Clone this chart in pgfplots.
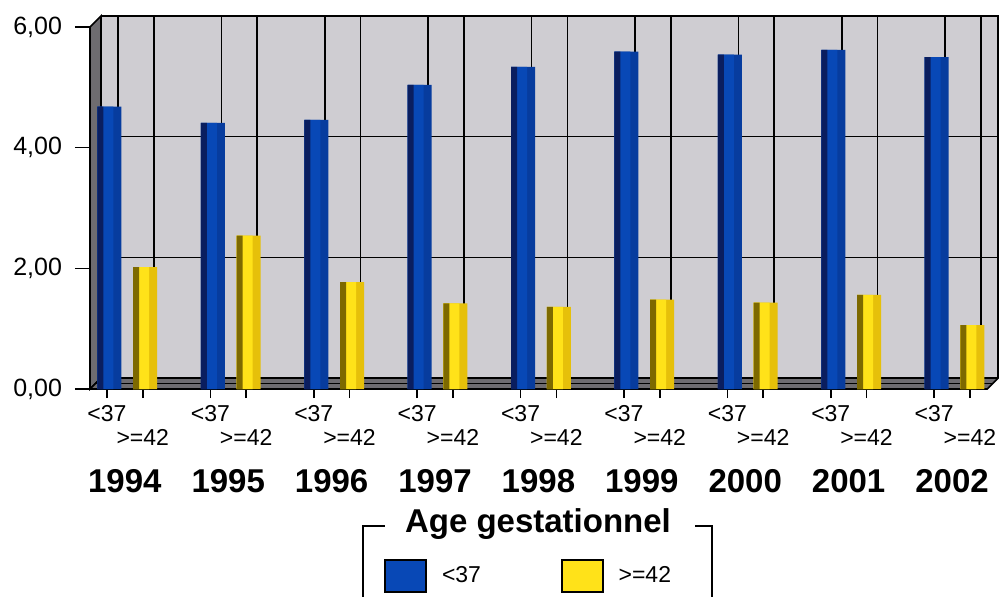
\documentclass[border=0pt]{standalone}
\usepackage{fontspec}
\setmainfont{Liberation Sans}
\usepackage{pgfplots}
\usepackage{pgfplotstable}
\pgfplotsset{compat=1.18}
\usetikzlibrary{calc}

\definecolor{wall}{RGB}{207,205,210}
\definecolor{sidewall}{RGB}{110,108,112}
\definecolor{blueA}{RGB}{8,72,182}
\definecolor{blueB}{RGB}{7,60,158}
\definecolor{blueC}{RGB}{10,30,95}
\definecolor{yelA}{RGB}{255,226,25}
\definecolor{yelB}{RGB}{230,192,10}
\definecolor{yelC}{RGB}{125,105,0}

\pgfplotstableread{
x y
-0.173 4.68
0.827 4.41
1.827 4.46
2.827 5.04
3.827 5.34
4.827 5.59
5.827 5.54
6.827 5.62
7.827 5.50
}\lowdata
\pgfplotstableread{
x y
0.173 2.02
1.173 2.54
2.173 1.77
3.173 1.42
4.173 1.36
5.173 1.48
6.173 1.43
7.173 1.56
8.173 1.06
}\highdata

\newcommand{\tickfont}{\fontsize{11.5bp}{12bp}\selectfont}
\newcommand{\ytickfont}{\fontsize{12.5bp}{13bp}\selectfont}
\newcommand{\yearfont}{\fontsize{16.5bp}{18bp}\selectfont\bfseries}
\def\dd{5.5bp}
\def\xmn{-0.337}
\def\xmx{8.34}

\pgfplotsset{sq legend/.style={legend image code/.code={\draw[##1,draw=black,line width=0.8bp] (0bp,-8bp) rectangle (20.5bp,8bp);}}}

\begin{document}
\begin{tikzpicture}
\useasboundingbox (-45bp,-104bp) rectangle (454.5bp,194.5bp);
\begin{axis}[
  at={(0,0)}, anchor=south west,
  x=51.7bp, y=30.17bp,
  xmin=\xmn, xmax=\xmx, ymin=0, ymax=6,
  clip=false,
  axis x line*=bottom, axis y line*=left,
  axis line style={black, line width=1bp},
  tick align=outside,
  major tick length=4.5bp,
  tick style={black, line width=0.8bp},
  tick label style={font=\tickfont},
  ytick=\empty,
  extra y ticks={0,2,4,6},
  extra y tick labels={{0,00},{2,00},{4,00},{6,00}},
  extra y tick style={major tick length=7.5bp, yticklabel style={xshift=-3bp, font=\ytickfont}},
  xtick={0.173,1.173,2.173,3.173,4.173,5.173,6.173,7.173,8.173},
  xticklabels={>=42,>=42,>=42,>=42,>=42,>=42,>=42,>=42,>=42},
  xticklabel style={yshift=-12bp},
  extra x ticks={-0.173,0.827,1.827,2.827,3.827,4.827,5.827,6.827,7.827},
  extra x tick labels={<37,<37,<37,<37,<37,<37,<37,<37,<37},
  extra x tick style={xticklabel style={yshift=12bp}},
  legend columns=2,
  legend style={at={(0.3277,-0.5165)}, anchor=west, draw=none, fill=none,
    inner sep=0pt, nodes={inner sep=0pt}, font=\tickfont,
    /tikz/every odd column/.append style={column sep=7.5bp},
    /tikz/every even column/.append style={column sep=40bp}},
]
% back wall
\fill[wall] ($(axis cs:\xmn,0)+(\dd,\dd)$) rectangle ($(axis cs:\xmx,6)+(\dd,\dd)$);
\draw[black,line width=0.8bp] ($(axis cs:\xmn,2)+(\dd,\dd)$) -- ($(axis cs:\xmx,2)+(\dd,\dd)$);
\draw[black,line width=0.8bp] ($(axis cs:\xmn,4)+(\dd,\dd)$) -- ($(axis cs:\xmx,4)+(\dd,\dd)$);
\pgfplotsinvokeforeach{-0.173,0.173,0.827,1.173,1.827,2.173,2.827,3.173,3.827,4.173,4.827,5.173,5.827,6.173,6.827,7.173,7.827,8.173}{
  \draw[black,line width=0.8bp] ($(axis cs:#1,0)+(\dd,\dd)$) -- ($(axis cs:#1,6)+(\dd,\dd)$);
}
\draw[black,line width=0.8bp] ($(axis cs:\xmn,6)+(\dd,\dd)$) -- ($(axis cs:\xmx,6)+(\dd,\dd)$) -- ($(axis cs:\xmx,0)+(\dd,\dd)$);
% left wall
\filldraw[fill=sidewall,draw=black,line width=0.8bp] (axis cs:\xmn,0) -- (axis cs:\xmn,6) -- ($(axis cs:\xmn,6)+(\dd,\dd)$) -- ($(axis cs:\xmn,0)+(\dd,\dd)$) -- cycle;
% floor
\filldraw[fill=sidewall,draw=black,line width=0.8bp] (axis cs:\xmn,0) -- (axis cs:\xmx,0) -- ($(axis cs:\xmx,0)+(\dd,\dd)$) -- ($(axis cs:\xmn,0)+(\dd,\dd)$) -- cycle;
\draw[black,line width=0.6bp] ($(axis cs:\xmn,0)+(0.5*\dd,0.5*\dd)$) -- ($(axis cs:\xmx,0)+(0.5*\dd,0.5*\dd)$);

% bars <37
\addplot[ybar, bar width=12bp, bar shift=1.25bp, fill=blueB, draw=none, forget plot] table {\lowdata};
\addplot[ybar, bar width=8bp, bar shift=-0.75bp, fill=blueA, draw=none, sq legend] table {\lowdata};
\addlegendentry{<37}
\addplot[ybar, bar width=3bp, bar shift=-3.25bp, fill=blueC, draw=none, forget plot] table {\lowdata};
% bars >=42
\addplot[ybar, bar width=12bp, bar shift=1.25bp, fill=yelB, draw=none, forget plot] table {\highdata};
\addplot[ybar, bar width=8bp, bar shift=-0.75bp, fill=yelA, draw=none, sq legend] table {\highdata};
\addlegendentry{>=42}
\addplot[ybar, bar width=3bp, bar shift=-3.25bp, fill=yelC, draw=none, forget plot] table {\highdata};

% years
\node[font=\yearfont, anchor=base] at ($(axis cs:0,0)+(0bp,-51.5bp)$) {1994};
\node[font=\yearfont, anchor=base] at ($(axis cs:1,0)+(0bp,-51.5bp)$) {1995};
\node[font=\yearfont, anchor=base] at ($(axis cs:2,0)+(0bp,-51.5bp)$) {1996};
\node[font=\yearfont, anchor=base] at ($(axis cs:3,0)+(0bp,-51.5bp)$) {1997};
\node[font=\yearfont, anchor=base] at ($(axis cs:4,0)+(0bp,-51.5bp)$) {1998};
\node[font=\yearfont, anchor=base] at ($(axis cs:5,0)+(0bp,-51.5bp)$) {1999};
\node[font=\yearfont, anchor=base] at ($(axis cs:6,0)+(0bp,-51.5bp)$) {2000};
\node[font=\yearfont, anchor=base] at ($(axis cs:7,0)+(0bp,-51.5bp)$) {2001};
\node[font=\yearfont, anchor=base] at ($(axis cs:8,0)+(0bp,-51.5bp)$) {2002};
\end{axis}
% legend frame and title
\draw[black,line width=1bp] (136.5bp,-104bp) -- (136.5bp,-68.5bp) -- (147.5bp,-68.5bp);
\draw[black,line width=1bp] (302.5bp,-68.5bp) -- (311bp,-68.5bp) -- (311bp,-104bp);
\node[font=\yearfont, anchor=base] at (224bp,-71.5bp) {Age gestationnel};
\end{tikzpicture}
\end{document}
